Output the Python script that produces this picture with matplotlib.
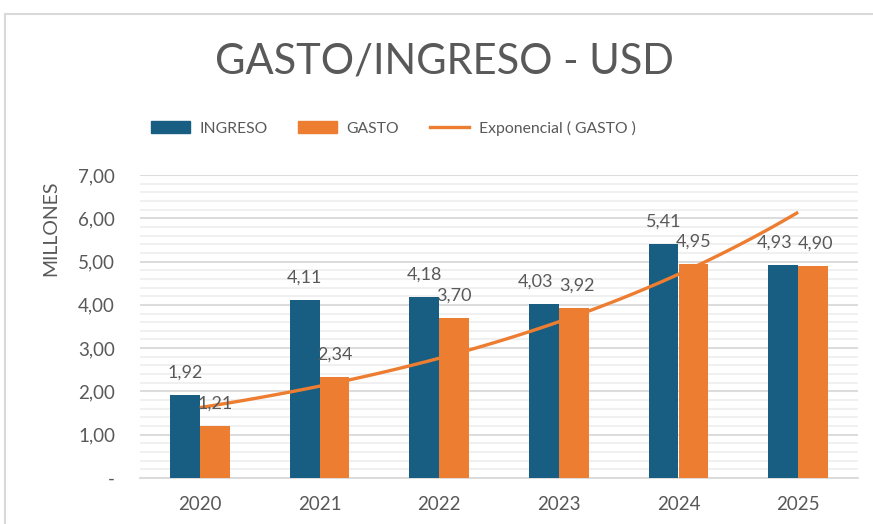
import matplotlib.pyplot as plt
import numpy as np
from matplotlib.patches import Patch
from matplotlib.lines import Line2D
from matplotlib.ticker import MultipleLocator, FixedLocator

# Data (millions USD)
years = ["2020", "2021", "2022", "2023", "2024", "2025"]
ingreso = [1.92, 4.11, 4.18, 4.03, 5.41, 4.93]
gasto = [1.21, 2.34, 3.70, 3.92, 4.95, 4.90]

BLUE = "#175E82"
ORANGE = "#ED7D31"
TXT = "#595959"

plt.rcParams['font.family'] = ['Lato', 'DejaVu Sans']

fig = plt.figure(figsize=(8.73, 5.24), dpi=100)
ax = fig.add_axes([140 / 873, 1 - 478 / 524, 718 / 873, 303 / 524])

x = np.arange(len(years))
w = 0.25
ax.bar(x - w / 2, ingreso, w, color=BLUE, zorder=3)
ax.bar(x + w / 2, gasto, w, color=ORANGE, zorder=3)

# exponential trendline fitted on GASTO (like Excel)
t = x + 1
b, a = np.polyfit(t, np.log(gasto), 1)
tt = np.linspace(t[0], t[-1], 100)
ax.plot(tt - 1, np.exp(a + b * tt), color=ORANGE, lw=2.4, zorder=4,
        solid_capstyle="butt")

def fmt(v):
    return f"{v:.2f}".replace(".", ",")

# data labels; push apart when the two labels of a year sit at the same height
for xi, vi, vg in zip(x, ingreso, gasto):
    close = abs(vi - vg) < 0.3
    dx_i, dx_g = (-6, 2) if close else (0, 0)
    ax.annotate(fmt(vi), (xi - w / 2, vi), xytext=(dx_i, 16), textcoords="offset points",
                ha="center", va="center", fontsize=13, color=TXT, zorder=5)
    ax.annotate(fmt(vg), (xi + w / 2, vg), xytext=(dx_g, 16), textcoords="offset points",
                ha="center", va="center", fontsize=13, color=TXT, zorder=5)

ax.set_xlim(-0.5, len(years) - 0.5)
ax.set_ylim(0, 7)
ax.set_xticks(x)
ax.set_xticklabels(years)
ax.yaxis.set_major_locator(FixedLocator(np.arange(0, 8)))
ax.set_yticklabels(["-"] + [fmt(v) for v in range(1, 8)])
ax.yaxis.set_minor_locator(MultipleLocator(0.2))
ax.grid(axis="y", which="major", color="#d9d9d9", lw=1.3, zorder=0)
ax.grid(axis="y", which="minor", color="#efefef", lw=1.3, zorder=0)
ax.tick_params(axis="both", which="both", length=0, labelsize=13.5, colors=TXT)
ax.tick_params(axis="y", pad=18)
ax.tick_params(axis="x", pad=13)
for s in ["top", "right", "left"]:
    ax.spines[s].set_visible(False)
ax.spines["bottom"].set_color("#d9d9d9")
ax.spines["bottom"].set_linewidth(1.3)

fig.text(51 / 873, 1 - 228 / 524, "MILLONES", rotation=90, ha="center", va="center",
         fontsize=14, color=TXT)

fig.text(444 / 873, 1 - 62 / 524, "GASTO/INGRESO - USD", ha="center", va="center",
         fontsize=30, color=TXT)

handles = [
    Patch(color=BLUE, label="INGRESO"),
    Patch(color=ORANGE, label="GASTO"),
    Line2D([0], [0], color=ORANGE, lw=2.4, label="Exponencial ( GASTO )"),
]
fig.legend(handles=handles, loc="center", bbox_to_anchor=(393 / 873, 1 - 128 / 524),
           ncol=3, frameon=False, fontsize=11.3, labelcolor=TXT, handlelength=2.5,
           handleheight=0.8, columnspacing=1.95, handletextpad=0.6)

# chart frame
fig.add_artist(Line2D([5 / 873, 5 / 873], [0, 1 - 14 / 524], color="#d9d9d9", lw=1.5))
fig.add_artist(Line2D([5 / 873, 1], [1 - 14 / 524, 1 - 14 / 524], color="#d9d9d9", lw=1.5))

fig.savefig("out.png", dpi=100)
